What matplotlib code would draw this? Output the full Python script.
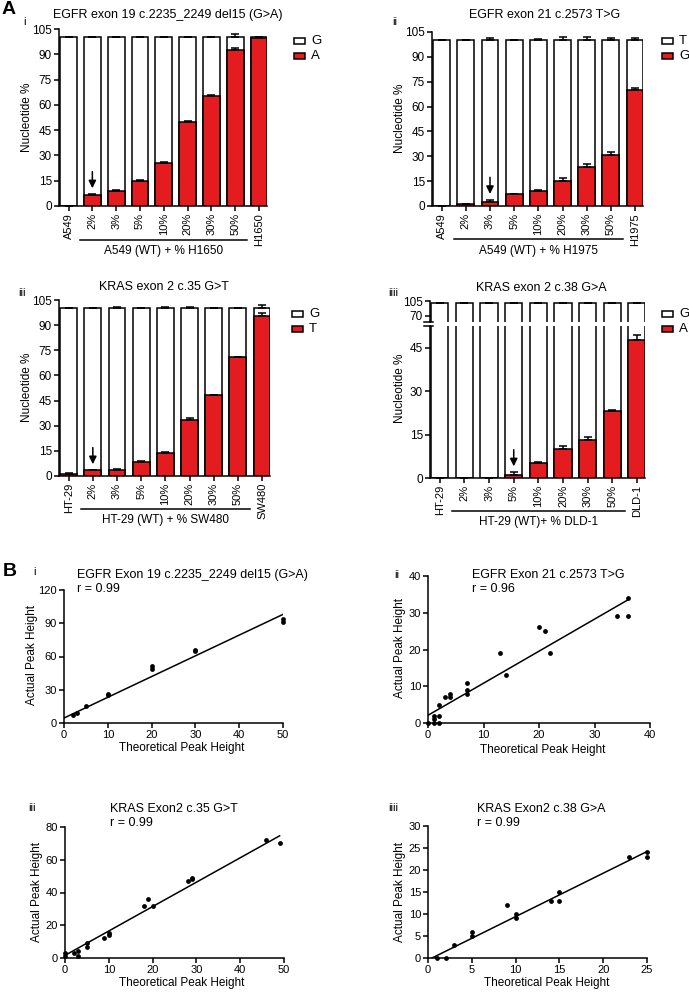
import numpy as np
import matplotlib
matplotlib.use('Agg')
import matplotlib.pyplot as plt
import matplotlib.transforms as mtransforms
from matplotlib.patches import Rectangle

plt.rcParams['font.family'] = ['Liberation Sans', 'DejaVu Sans']

# ---------------- data ----------------
cats_i = ['A549', '2%', '3%', '5%', '10%', '20%', '30%', '50%', 'H1650']
mut_i = [0, 6.7, 8.9, 14.9, 25.6, 49.6, 65.3, 92.7, 99.7]
mut_err_i = [0, 0.5, 0.5, 0.4, 0.5, 0.8, 0.5, 1.0, 0]
wt_err_i = [0, 0, 0.3, 0.3, 0.5, 0.5, 0.3, 1.8, 0]

cats_ii = ['A549', '2%', '3%', '5%', '10%', '20%', '30%', '50%', 'H1975']
mut_ii = [0, 1.0, 2.4, 7.0, 9.1, 15.1, 23.5, 30.8, 69.8]
mut_err_ii = [0, 0.3, 1.5, 0.5, 0.5, 2.0, 2.0, 1.5, 1.5]
wt_err_ii = [0, 0.3, 1.5, 0.3, 0.5, 2.0, 2.0, 1.5, 1.5]

cats_iii = ['HT-29', '2%', '3%', '5%', '10%', '20%', '30%', '50%', 'SW480']
mut_iii = [1.2, 3.4, 3.4, 8.4, 13.7, 33.3, 48.2, 70.7, 95.4]
mut_err_iii = [0.3, 0.3, 1.0, 0.5, 0.8, 1.2, 0.3, 0.3, 2.0]
wt_err_iii = [0.5, 0.2, 1.0, 0.5, 0.8, 1.0, 0.5, 0.5, 2.0]

cats_iv = ['HT-29', '2%', '3%', '5%', '10%', '20%', '30%', '50%', 'DLD-1']
mut_iv = [0, 0, 0, 0.9, 5.3, 10.2, 13.3, 23.2, 47.9]
mut_err_iv = [0, 0, 0, 1.2, 0.3, 1.0, 0.8, 0.3, 1.5]
wt_err_iv = [0.3, 0.3, 0.3, 0.3, 0.5, 0.5, 0.5, 0.5, 0.5]

theo_i = [2, 3, 5, 10, 10, 20, 20, 30, 30, 50, 50]
act_i = [7, 9, 15, 25, 26, 49, 51, 65, 66, 91, 94]
fit_i = [1.87, 4.5]          # slope, intercept of the drawn regression line

theo_ii = [0, 1, 1, 1, 2, 2, 2, 3, 4, 4, 7, 7, 7, 13, 14, 20, 21, 22, 34, 36, 36]
act_ii = [0, 2, 1, 0, 2, 0, 5, 7, 7, 8, 8, 9, 11, 19, 13, 26, 25, 19, 29, 29, 34]
fit_ii = [0.872, 2.1]

theo_iii = [0, 0, 2, 3, 3, 5, 5, 9, 10, 10, 18, 19, 20, 28, 29, 29, 46, 49]
act_iii = [3, 1, 3, 4.5, 1, 9, 7, 12, 14, 15, 32, 36, 32, 47, 48, 49, 72, 70]
fit_iii = [1.49, 1.6]

theo_iv = [1, 2, 3, 5, 5, 9, 10, 10, 14, 15, 15, 23, 25, 25]
act_iv = [0, 0, 3, 6, 5, 12, 10, 9, 13, 15, 13, 23, 24, 23]
fit_iv = [0.986, -0.45]

# ---------------- layout helpers ----------------
W, H = 689, 992
fig = plt.figure(figsize=(W / 100, H / 100), dpi=100)
RED = '#E41B1F'
LW = 1.1
TICK_FS = 8
LAB_FS = 8.5
TITLE_FS = 9


def px_axes(l, t, r, b):
    return fig.add_axes([l / W, 1 - b / H, (r - l) / W, (b - t) / H])


def ftext(x, y, s, **kw):
    kw.setdefault('fontsize', LAB_FS)
    return fig.text(x / W, 1 - y / H, s, **kw)


def style(ax, yfs=TICK_FS):
    for sp in ['top', 'right']:
        ax.spines[sp].set_visible(False)
    for sp in ['left', 'bottom']:
        ax.spines[sp].set_linewidth(LW)
    ax.tick_params(direction='out', length=3.5, width=LW, labelsize=TICK_FS, pad=1.5)
    ax.tick_params(axis='y', labelsize=yfs)


def draw_bars(ax, cats, mut, mut_err, wt_err, show_xticks=True):
    x = np.arange(len(cats))
    tot = np.full(len(cats), 100.0)
    z = np.zeros(len(cats))
    ax.bar(x, tot, width=0.7, color='white', edgecolor='black', linewidth=LW, zorder=2)
    ax.errorbar(x, tot, yerr=[z, wt_err], fmt='none', ecolor='black',
                elinewidth=LW, capsize=3, capthick=LW, zorder=3)
    ax.bar(x, mut, width=0.7, color=RED, edgecolor='black', linewidth=LW, zorder=4)
    ax.errorbar(x, mut, yerr=[z, mut_err], fmt='none', ecolor='black',
                elinewidth=LW, capsize=3, capthick=LW, zorder=5)
    ax.set_xlim(-0.4, 8.33)
    if show_xticks:
        ax.set_xticks(x)
        ax.set_xticklabels(cats, rotation=90)
    return x


def arrow(ax, xi, v):
    ax.annotate('', xy=(xi, v), xytext=(0, 16), textcoords='offset points',
                arrowprops=dict(arrowstyle='-|>,head_length=0.45,head_width=0.22',
                                color='black', lw=1.1, shrinkA=0, shrinkB=4),
                zorder=6)


def legend(x, y, labels):
    for k, (lab, col) in enumerate(labels):
        yy = y + k * 15
        fig.add_artist(Rectangle((x / W, 1 - (yy + 3) / H), 11 / W, 6 / H,
                                 transform=fig.transFigure, facecolor=col,
                                 edgecolor='black', linewidth=LW))
        ftext(x + 17, yy, lab, fontsize=9.5, va='center', ha='left')


def group(ax, yline, ytext, label):
    tr = mtransforms.blended_transform_factory(ax.transData, fig.transFigure)
    ax.plot([0.5, 7.5], [1 - yline / H] * 2, color='black', lw=LW,
            transform=tr, clip_on=False)
    ax.text(4, 1 - ytext / H, label, transform=tr, ha='center', va='center',
            fontsize=LAB_FS)


A_YFS = 8.5

# ---------------- Panel A ----------------
ftext(2, 10, 'A', fontsize=14, fontweight='bold', va='center', ha='left')

# A-i
ax = px_axes(59, 29, 267, 206)
draw_bars(ax, cats_i, mut_i, mut_err_i, wt_err_i)
ax.set_ylim(0, 105)
ax.set_yticks(np.arange(0, 106, 15))
style(ax, A_YFS)
arrow(ax, 1, mut_i[1] + mut_err_i[1])
group(ax, 240, 251, 'A549 (WT) + % H1650')
ftext(168, 15, 'EGFR exon 19 c.2235_2249 del15 (G>A)', fontsize=TITLE_FS, ha='center', va='center')
ftext(25, 22, 'i', fontsize=TICK_FS, ha='center', va='center')
ftext(27, 117, 'Nucleotide %', rotation=90, ha='center', va='center')
legend(294, 41, [('G', 'white'), ('A', RED)])

# A-ii
ax = px_axes(432, 32, 643, 206)
draw_bars(ax, cats_ii, mut_ii, mut_err_ii, wt_err_ii)
ax.set_ylim(0, 105)
ax.set_yticks(np.arange(0, 106, 15))
style(ax, A_YFS)
arrow(ax, 2, mut_ii[2] + mut_err_ii[2])
group(ax, 239, 251, 'A549 (WT) + % H1975')
ftext(545, 15, 'EGFR exon 21 c.2573 T>G', fontsize=TITLE_FS, ha='center', va='center')
ftext(395, 22, 'ii', fontsize=TICK_FS, ha='center', va='center')
ftext(400, 118, 'Nucleotide %', rotation=90, ha='center', va='center')
legend(662, 41, [('T', 'white'), ('G', RED)])

# A-iii
ax = px_axes(59, 300, 270, 476)
draw_bars(ax, cats_iii, mut_iii, mut_err_iii, wt_err_iii)
ax.set_ylim(0, 105)
ax.set_yticks(np.arange(0, 106, 15))
style(ax, A_YFS)
arrow(ax, 1, mut_iii[1] + mut_err_iii[1])
group(ax, 509, 520, 'HT-29 (WT) + % SW480')
ftext(164, 287, 'KRAS exon 2 c.35 G>T', fontsize=TITLE_FS, ha='center', va='center')
ftext(22, 293, 'iii', fontsize=TICK_FS, ha='center', va='center')
ftext(27, 387, 'Nucleotide %', rotation=90, ha='center', va='center')
legend(292, 314, [('G', 'white'), ('T', RED)])

# A-iiii (broken axis)
axu = px_axes(430, 301, 645, 322)
draw_bars(axu, cats_iv, mut_iv, mut_err_iv, wt_err_iv, show_xticks=False)
axu.set_ylim(56, 105)
axu.set_yticks([70, 105])
style(axu, A_YFS)
axu.spines['bottom'].set_visible(False)
axu.set_xticks([])
axl = px_axes(430, 326, 645, 478)
draw_bars(axl, cats_iv, mut_iv, mut_err_iv, wt_err_iv)
axl.set_ylim(0, 52.6)
axl.set_yticks([0, 15, 30, 45])
style(axl, A_YFS)
axl.plot([-0.03, 0.015], [1, 1], transform=axl.transAxes, color='black', lw=LW, clip_on=False)
axu.plot([-0.03, 0.015], [0, 0], transform=axu.transAxes, color='black', lw=LW, clip_on=False)
arrow(axl, 3, mut_iv[3] + mut_err_iv[3])
group(axl, 511, 522, 'HT-29 (WT)+ % DLD-1')
ftext(541, 288, 'KRAS exon 2 c.38 G>A', fontsize=TITLE_FS, ha='center', va='center')
ftext(393, 293, 'iiii', fontsize=TICK_FS, ha='center', va='center')
ftext(400, 388, 'Nucleotide %', rotation=90, ha='center', va='center')
legend(662, 314, [('G', 'white'), ('A', RED)])

# ---------------- Panel B ----------------
ftext(3, 571, 'B', fontsize=14, fontweight='bold', va='center', ha='left')


def scatter_panel(box, theo, act, fit, xlim, ylim, xticks, yticks, title, r, tpos,
                  rn, rnpos, ylpos, xlpos):
    ax = px_axes(*box)
    ax.scatter(theo, act, s=12, color='black', zorder=3, clip_on=False, linewidths=0)
    slope, icpt = fit
    xs = np.array([0, max(theo)])
    ax.plot(xs, slope * xs + icpt, color='black', lw=LW, zorder=2)
    ax.set_xlim(*xlim)
    ax.set_ylim(*ylim)
    ax.set_xticks(xticks)
    ax.set_yticks(yticks)
    style(ax)
    ftext(tpos[0], tpos[1], title, fontsize=TITLE_FS, ha='left', va='center')
    ftext(tpos[0], tpos[1] + 14, r, fontsize=TITLE_FS, ha='left', va='center')
    ftext(rnpos[0], rnpos[1], rn, fontsize=TICK_FS, ha='center', va='center')
    ftext(ylpos[0], ylpos[1], 'Actual Peak Height', rotation=90, ha='center', va='center')
    ftext(xlpos[0], xlpos[1], 'Theoretical Peak Height', ha='center', va='center')
    return ax


scatter_panel((64, 590, 283, 723), theo_i, act_i, fit_i, (0, 50), (0, 120),
              np.arange(0, 51, 10), np.arange(0, 121, 30),
              'EGFR Exon 19 c.2235_2249 del15 (G>A)', 'r = 0.99', (77, 575),
              'i', (35, 572), (32, 655), (182, 748))
scatter_panel((428, 576, 650, 723), theo_ii, act_ii, fit_ii, (0, 40), (0, 40),
              np.arange(0, 41, 10), np.arange(0, 41, 10),
              'EGFR Exon 21 c.2573 T>G', 'r = 0.96', (472, 575),
              'ii', (397, 575), (400, 648), (543, 750))
scatter_panel((65, 827, 284, 958), theo_iii, act_iii, fit_iii, (0, 50), (0, 80),
              np.arange(0, 51, 10), np.arange(0, 81, 20),
              'KRAS Exon2 c.35 G>T', 'r = 0.99', (110, 809),
              'iii', (32, 808), (37, 892), (182, 983))
scatter_panel((428, 826, 647, 958), theo_iv, act_iv, fit_iv, (0, 25), (0, 30),
              np.arange(0, 26, 5), np.arange(0, 31, 5),
              'KRAS Exon2 c.38 G>A', 'r = 0.99', (477, 809),
              'iiii', (393, 808), (400, 892), (547, 983))

fig.savefig('out.png', dpi=100)
